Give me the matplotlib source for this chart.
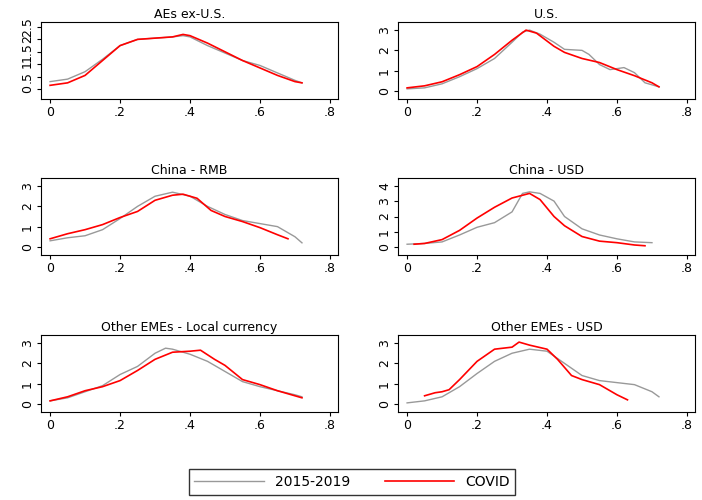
import matplotlib.pyplot as plt
from matplotlib.lines import Line2D

titles = ['AEs ex-U.S.', 'U.S.', 'China - RMB', 'China - USD',
          'Other EMEs - Local currency', 'Other EMEs - USD']

aes_g_x = [0, .05, .1, .15, .2, .25, .3, .35, .38, .4, .45, .5, .55, .6, .65, .7, .72]
aes_g_y = [.3, .4, .7, 1.2, 1.75, 2.0, 2.05, 2.1, 2.15, 2.1, 1.75, 1.45, 1.15, .95, .65, .35, .25]
aes_r_x = [0, .05, .1, .15, .2, .25, .3, .35, .38, .4, .45, .5, .55, .6, .65, .7, .72]
aes_r_y = [.15, .25, .55, 1.15, 1.75, 2.0, 2.05, 2.1, 2.2, 2.15, 1.85, 1.5, 1.15, .85, .55, .3, .25]

us_g_x = [0, .05, .1, .15, .2, .25, .3, .33, .35, .38, .42, .45, .5, .52, .55, .58, .62, .65, .68, .72]
us_g_y = [.1, .15, .35, .7, 1.1, 1.6, 2.4, 2.9, 3.0, 2.8, 2.4, 2.05, 2.0, 1.8, 1.3, 1.05, 1.15, .9, .4, .2]
us_r_x = [0, .05, .1, .15, .2, .25, .3, .34, .37, .42, .45, .5, .55, .6, .65, .7, .72]
us_r_y = [.15, .25, .45, .8, 1.2, 1.8, 2.5, 3.0, 2.85, 2.2, 1.9, 1.6, 1.4, 1.05, .75, .4, .2]

cr_g_x = [0, .05, .1, .15, .2, .25, .3, .35, .4, .45, .5, .55, .6, .65, .7, .72]
cr_g_y = [.3, .45, .55, .85, 1.4, 2.0, 2.5, 2.7, 2.5, 2.0, 1.6, 1.3, 1.15, 1.0, .5, .2]
cr_r_x = [0, .05, .1, .15, .2, .25, .3, .35, .38, .42, .46, .5, .55, .6, .65, .68]
cr_r_y = [.4, .65, .85, 1.1, 1.45, 1.75, 2.3, 2.55, 2.6, 2.4, 1.8, 1.5, 1.25, .95, .6, .4]

cu_g_x = [0, .05, .1, .15, .2, .25, .3, .33, .35, .38, .42, .45, .5, .55, .6, .65, .7]
cu_g_y = [.2, .25, .35, .8, 1.3, 1.6, 2.3, 3.5, 3.6, 3.5, 3.0, 2.0, 1.2, .8, .55, .35, .3]
cu_r_x = [.02, .05, .1, .15, .2, .25, .3, .35, .38, .42, .45, .5, .55, .6, .65, .68]
cu_r_y = [.2, .25, .5, 1.1, 1.9, 2.6, 3.2, 3.5, 3.1, 2.0, 1.4, .7, .4, .3, .15, .1]

ol_g_x = [0, .05, .1, .15, .2, .25, .3, .33, .35, .4, .45, .5, .55, .6, .65, .7, .72]
ol_g_y = [.15, .3, .6, .9, 1.45, 1.85, 2.5, 2.75, 2.7, 2.45, 2.1, 1.6, 1.1, .85, .65, .45, .35]
ol_r_x = [0, .05, .1, .15, .2, .25, .3, .35, .4, .43, .47, .5, .55, .6, .65, .7, .72]
ol_r_y = [.15, .35, .65, .85, 1.15, 1.65, 2.2, 2.55, 2.6, 2.65, 2.2, 1.9, 1.2, .95, .65, .4, .3]

ou_g_x = [0, .05, .1, .15, .2, .25, .3, .35, .4, .45, .5, .55, .6, .65, .7, .72]
ou_g_y = [.05, .15, .35, .85, 1.5, 2.1, 2.5, 2.7, 2.6, 2.0, 1.4, 1.15, 1.05, .95, .6, .35]
ou_r_x = [.05, .08, .1, .12, .15, .2, .25, .3, .32, .35, .4, .43, .47, .5, .55, .6, .63]
ou_r_y = [.4, .55, .6, .7, 1.2, 2.1, 2.7, 2.8, 3.05, 2.9, 2.7, 2.2, 1.4, 1.2, .95, .45, .2]

series = [(aes_g_x, aes_g_y, aes_r_x, aes_r_y), (us_g_x, us_g_y, us_r_x, us_r_y),
          (cr_g_x, cr_g_y, cr_r_x, cr_r_y), (cu_g_x, cu_g_y, cu_r_x, cu_r_y),
          (ol_g_x, ol_g_y, ol_r_x, ol_r_y), (ou_g_x, ou_g_y, ou_r_x, ou_r_y)]
yticks = [[0, .5, 1, 1.5, 2, 2.5], [0, 1, 2, 3], [0, 1, 2, 3], [0, 1, 2, 3, 4],
          [0, 1, 2, 3], [0, 1, 2, 3]]
ylims = [(-0.4, 2.7), (-0.4, 3.4), (-0.4, 3.4), (-0.5, 4.5), (-0.4, 3.4), (-0.4, 3.4)]

fig = plt.figure(figsize=(7.02, 5.0), dpi=100)
W, H = 702, 500
lefts = [41, 398]
tops = [22, 178, 335]
for i, (gx, gy, rx, ry) in enumerate(series):
    r, c = divmod(i, 2)
    ax = fig.add_axes([lefts[c] / W, 1 - (tops[r] + 77) / H, 297 / W, 77 / H])
    ax.plot(gx, gy, color='#999999', lw=1)
    ax.plot(rx, ry, color='red', lw=1.2)
    ax.set_xlim(-0.026, 0.823)
    ax.set_ylim(*ylims[i])
    ax.set_xticks([0, .2, .4, .6, .8])
    ax.set_xticklabels(['0', '.2', '.4', '.6', '.8'], fontsize=9)
    ax.set_yticks(yticks[i])
    ax.set_yticklabels([('%g' % v).replace('0.', '.') if v not in (0,) else '0' for v in yticks[i]],
                       fontsize=9, rotation=90, va='center')
    ax.set_title(titles[i], fontsize=9, pad=3)
    ax.tick_params(length=3, pad=2)

handles = [Line2D([], [], color='#999999', lw=1), Line2D([], [], color='red', lw=1.2)]
fig.legend(handles, ['2015-2019', 'COVID'], loc='center', bbox_to_anchor=(352 / W, 1 - 482 / H),
           ncol=2, fontsize=10, frameon=True, fancybox=False, edgecolor='black',
           handlelength=5, columnspacing=2.5)

fig.savefig('out.png', dpi=100)
